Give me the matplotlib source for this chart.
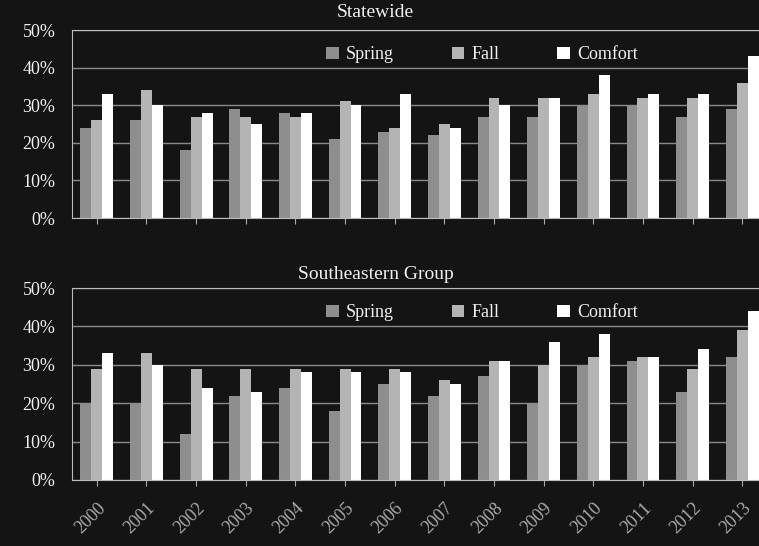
import numpy as np
from matplotlib import pyplot as plt

years = ['2000', '2001', '2002', '2003', '2004', '2005', '2006',
         '2007', '2008', '2009', '2010', '2011', '2012', '2013']

# Statewide
state_spring = [24, 26, 18, 29, 28, 21, 23, 22, 27, 27, 30, 30, 27, 29]
state_fall = [26, 34, 27, 27, 27, 31, 24, 25, 32, 32, 33, 32, 32, 36]
state_comfort = [33, 30, 28, 25, 28, 30, 33, 24, 30, 32, 38, 33, 33, 43]

# Southeastern
se_spring = [20, 20, 12, 22, 24, 18, 25, 22, 27, 20, 30, 31, 23, 32]
se_fall = [29, 33, 29, 29, 29, 29, 29, 26, 31, 30, 32, 32, 29, 39]
se_comfort = [33, 30, 24, 23, 28, 28, 28, 25, 31, 36, 38, 32, 34, 44]

bg = '#141414'
fg = '#f0f0f0'
plt.rcParams['font.family'] = ['Liberation Serif', 'DejaVu Serif']

fig = plt.figure(dpi=100, figsize=(7.59, 5.46), facecolor=bg)
ax1 = fig.add_axes([0.0949, 0.6007, 0.9157, 0.3443])
ax2 = fig.add_axes([0.0949, 0.1209, 0.9157, 0.3516])

x = np.arange(len(years))
w = 0.22


def draw(ax, spring, fall, comfort, show_x):
    ax.set_facecolor(bg)
    ax.set_axisbelow(True)
    ax.grid(axis='y', color='#8a8a8a', linewidth=1)
    ax.bar(x - w, spring, w, color='#8e8e8e', label='Spring')
    ax.bar(x, fall, w, color='#b4b4b4', label='Fall')
    ax.bar(x + w, comfort, w, color='white', label='Comfort')
    ax.set_xlim(-0.5, len(years) - 0.5)
    ax.set_ylim(0, 50)
    ax.set_yticks(range(0, 51, 10))
    ax.set_yticklabels([f'{v}%' for v in range(0, 51, 10)], fontsize=13, color=fg)
    ax.set_xticks(x)
    if show_x:
        ax.set_xticklabels(years, rotation=45, ha='right', rotation_mode='anchor',
                           fontsize=13, color=fg)
    else:
        ax.set_xticklabels([])
    ax.tick_params(axis='y', length=0, pad=12)
    ax.tick_params(axis='x', colors='#aaaaaa', length=4, pad=10)
    ax.spines['right'].set_visible(False)
    for s in ['left', 'top', 'bottom']:
        ax.spines[s].set_color('#bbbbbb')
    ax.legend(ncol=3, loc='upper center', bbox_to_anchor=(0.59, 1.0),
              frameon=False, fontsize=13, labelcolor=fg, handlelength=0.7,
              handleheight=0.7, columnspacing=3.2, handletextpad=0.4)


draw(ax1, state_spring, state_fall, state_comfort, False)
draw(ax2, se_spring, se_fall, se_comfort, True)

fig.text(0.495, 0.978, 'Statewide', ha='center', va='center', fontsize=14, color=fg)
fig.text(0.495, 0.498, 'Southeastern Group', ha='center', va='center', fontsize=14, color=fg)

fig.savefig('out.png', dpi=100, facecolor=bg)
